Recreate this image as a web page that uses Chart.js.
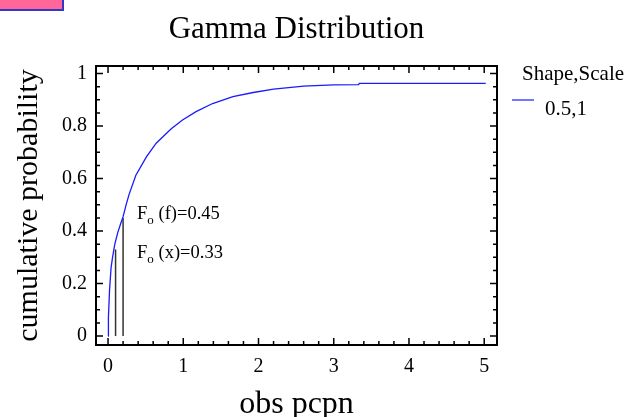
<!DOCTYPE html>
<html>
<head>
<meta charset="utf-8">
<script src="https://cdn.jsdelivr.net/npm/chart.js@4.4.0/dist/chart.umd.min.js"></script>
<style>
  html, body { margin: 0; padding: 0; background: #fff; }
  #wrap { position: relative; width: 636px; height: 417px; }
  #tab { position: absolute; left: 0; top: 0; width: 62px; height: 9px; background: #ff6699;
         border-right: 2px solid #3535c8; border-bottom: 2px solid #3535c8; z-index: 2; }
</style>
</head>
<body>
<div id="wrap">
  <div id="tab"></div>
  <canvas id="grafico" width="636" height="417"></canvas>
</div>
<script>
// datos
const obsPcpn = [0, 0.005, 0.02, 0.04, 0.06, 0.09, 0.13, 0.17, 0.2, 0.24, 0.28, 0.37, 0.51, 0.64,
  0.84, 0.99, 1.17, 1.39, 1.66, 1.93, 2.2, 2.6, 3.0, 3.33, 3.34, 5.02];
const probAcum = [0, 0.07, 0.175, 0.26, 0.3, 0.35, 0.395, 0.43, 0.455, 0.5, 0.54, 0.613, 0.683, 0.735,
  0.79, 0.823, 0.855, 0.886, 0.912, 0.928, 0.941, 0.952, 0.957, 0.958, 0.963, 0.963];

const marcaX = [0.1, 0.2];
const marcaY = [0.33, 0.45];
const marcaTexto = ['(x)=0.33', '(f)=0.45'];

const xTicks = [0, 1, 2, 3, 4, 5];
const yTicks = [0, 0.2, 0.4, 0.6, 0.8, 1];

const serieNombre = '0.5,1';
const leyendaTitulo = 'Shape,Scale';

const FUENTE = '"Liberation Serif", "Times New Roman", serif';

// marco con marcas hacia adentro en los 4 lados
const marcoPlugin = {
  id: 'marco',
  afterDatasetsDraw(chart) {
    const { ctx, chartArea: a, scales: { x, y } } = chart;
    ctx.save();
    ctx.strokeStyle = '#000';
    ctx.lineWidth = 1.5;
    ctx.beginPath();
    for (let i = 0; i <= 25; i++) {
      const px = x.getPixelForValue(i * 0.2);
      const len = i % 5 === 0 ? 7 : 4;
      ctx.moveTo(px, a.bottom); ctx.lineTo(px, a.bottom - len);
      ctx.moveTo(px, a.top); ctx.lineTo(px, a.top + len);
    }
    for (let i = 0; i <= 20; i++) {
      const py = y.getPixelForValue(i * 0.05);
      const len = i % 4 === 0 ? 7 : 4;
      ctx.moveTo(a.left, py); ctx.lineTo(a.left + len, py);
      ctx.moveTo(a.right, py); ctx.lineTo(a.right - len, py);
    }
    ctx.stroke();
    ctx.lineWidth = 2;
    ctx.strokeRect(a.left, a.top, a.right - a.left, a.bottom - a.top);

    // etiquetas F_o
    ctx.fillStyle = '#000';
    ctx.textBaseline = 'alphabetic';
    const tx = x.getPixelForValue(marcaX[1]) + 14;
    const base = [y.getPixelForValue(marcaY[1]) + 40, y.getPixelForValue(marcaY[1]) + 1];
    marcaTexto.forEach((t, i) => {
      let cx = tx;
      ctx.font = '18.5px ' + FUENTE;
      ctx.fillText('F', cx, base[i]);
      cx += ctx.measureText('F').width;
      ctx.font = '13px ' + FUENTE;
      ctx.fillText('o', cx, base[i] + 5);
      cx += ctx.measureText('o').width;
      ctx.font = '18.5px ' + FUENTE;
      ctx.fillText(' ' + t, cx, base[i]);
    });

    // leyenda
    ctx.font = '21px ' + FUENTE;
    ctx.fillText(leyendaTitulo, 522, 80);
    ctx.fillText(chart.data.datasets[0].label, 545, 115);
    ctx.strokeStyle = chart.data.datasets[0].borderColor;
    ctx.lineWidth = 1.2;
    ctx.beginPath();
    ctx.moveTo(512, 100); ctx.lineTo(534, 100);
    ctx.stroke();
    ctx.restore();
  }
};

const datasets = [{
  label: serieNombre,
  data: obsPcpn.map((v, i) => ({ x: v, y: probAcum[i] })),
  showLine: true,
  borderColor: '#1a1aff',
  borderWidth: 1.3,
  pointRadius: 0,
  tension: 0
}];
marcaX.forEach((v, i) => {
  datasets.push({
    label: 'F' + i,
    data: [{ x: v, y: 0 }, { x: v, y: marcaY[i] }],
    showLine: true,
    borderColor: '#333',
    borderWidth: 1.5,
    pointRadius: 0
  });
});

new Chart(document.getElementById('grafico'), {
  type: 'scatter',
  data: { datasets },
  options: {
    responsive: false,
    animation: false,
    devicePixelRatio: 1,
    layout: { padding: { left: 0, top: 0, right: 139, bottom: 0 } },
    plugins: {
      legend: { display: false },
      tooltip: { enabled: false },
      title: {
        display: true,
        fullSize: false,
        text: 'Gamma Distribution',
        color: '#000',
        font: { family: FUENTE, size: 31, weight: 'normal' },
        padding: { top: 11, bottom: 17.8 }
      }
    },
    scales: {
      x: {
        type: 'linear',
        min: -0.16,
        max: 5.17,
        afterFit(s) { s.height = 72; },
        afterBuildTicks(s) { s.ticks = xTicks.map(v => ({ value: v })); },
        grid: { display: false, drawTicks: false },
        border: { display: false },
        ticks: { color: '#000', padding: 10, maxRotation: 0, font: { family: FUENTE, size: 20 }, callback: v => String(v) },
        title: { display: true, text: 'obs pcpn', color: '#000', font: { family: FUENTE, size: 32, lineHeight: 0.8 }, padding: { top: 0, bottom: 0 } }
      },
      y: {
        type: 'linear',
        min: -0.034,
        max: 1.029,
        afterFit(s) { s.width = 96; },
        afterBuildTicks(s) { s.ticks = yTicks.map(v => ({ value: v })); },
        grid: { display: false, drawTicks: false },
        border: { display: false },
        ticks: { color: '#000', padding: 9, font: { family: FUENTE, size: 20 }, callback: v => String(v) },
        title: { display: true, text: 'cumulative probability', color: '#000', font: { family: FUENTE, size: 30 }, padding: { top: 11, bottom: 0 } }
      }
    }
  },
  plugins: [marcoPlugin]
});
</script>
</body>
</html>
